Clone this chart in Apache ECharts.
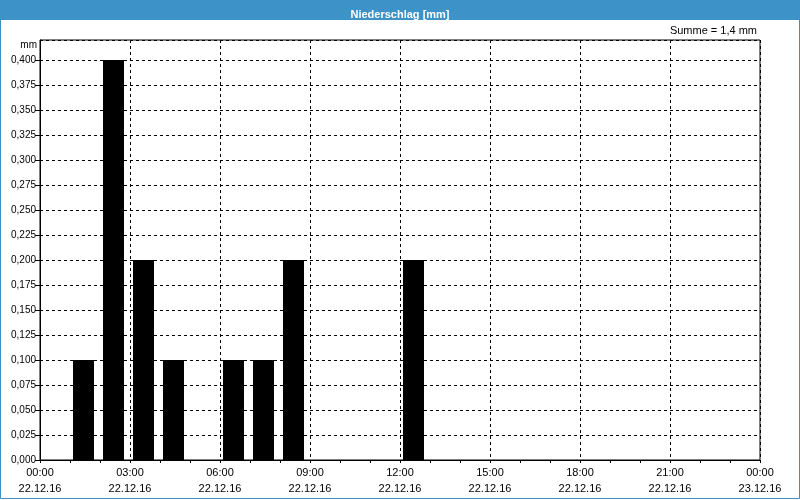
<!DOCTYPE html>
<html>
<head>
<meta charset="utf-8">
<script src="https://cdn.jsdelivr.net/npm/echarts@6/dist/echarts.min.js"></script>
<style>
html,body{margin:0;padding:0;background:#fff;}
#chart{width:800px;height:500px;}
</style>
</head>
<body>
<div id="chart"></div>
<script>
// Hourly precipitation (mm) for 22.12.16, hour slot starting at index hour
const hours = [0,1,2,3,4,5,6,7,8,9,10,11,12,13,14,15,16,17,18,19,20,21,22,23];
const precip = [0,0.1,0.4,0.2,0.1,0,0.1,0.1,0.2,0,0,0,0.2,0,0,0,0,0,0,0,0,0,0,0];
const xTimeLabels = ['00:00','03:00','06:00','09:00','12:00','15:00','18:00','21:00','00:00'];
const xDateLabels = ['22.12.16','22.12.16','22.12.16','22.12.16','22.12.16','22.12.16','22.12.16','22.12.16','23.12.16'];
const titleText = 'Niederschlag [mm]';
const unitText = 'mm';

const sum = precip.reduce((a,b)=>a+b,0);
const sumText = 'Summe = ' + (Math.round(sum*10)/10).toFixed(1).replace('.', ',') + ' mm';

const FONT = 'Liberation Sans';
const BLUE = '#3d92c8';

const chart = echarts.init(document.getElementById('chart'), null, {renderer:'canvas'});
const barData = hours.filter((h,i)=>precip[i]>0).map(h => [h + 0.45, precip[h]]);

chart.setOption({
  animation:false,
  backgroundColor:'#ffffff',
  title:{
    text:titleText, left:'center', top:4,
    textStyle:{color:'#fff', fontFamily:FONT, fontSize:11, fontWeight:'bold'}
  },
  graphic:[
    {type:'rect', z:-1, shape:{x:0,y:0,width:800,height:20}, style:{fill:BLUE}},
    {type:'rect', z:-1, shape:{x:0.5,y:0.5,width:799,height:498}, style:{fill:null, stroke:BLUE, lineWidth:1}},
    {type:'rect', z:-1, shape:{x:0,y:499,width:800,height:1}, style:{fill:'#fff'}},
    {type:'text', x:37, y:45, style:{text:unitText, align:'right', verticalAlign:'middle', fill:'#000', font:'10px "Liberation Sans"'}},
    {type:'text', x:757, y:31, style:{text:sumText, align:'right', verticalAlign:'middle', fill:'#000', font:'11px "Liberation Sans"'}}
  ],
  grid:{left:40, right:40, top:40, bottom:40, show:true, borderColor:'#000', borderWidth:1, backgroundColor:'#fff'},
  xAxis:{
    type:'value', min:0, max:24, interval:3,
    axisLine:{show:true, lineStyle:{color:'#000', width:1}},
    axisTick:{show:true, length:3, lineStyle:{color:'#000'}},
    minorTick:{show:true, splitNumber:3, length:3, lineStyle:{color:'#000'}},
    splitLine:{show:true, lineStyle:{color:'#000', type:[3,3], width:1}},
    axisLabel:{
      margin:5, fontFamily:FONT, fontSize:11, color:'#000', lineHeight:16,
      showMinLabel:true, showMaxLabel:true,
      formatter:(v)=>{const i=Math.round(v/3); return xTimeLabels[i]+'\n'+xDateLabels[i];}
    }
  },
  yAxis:{
    type:'value', min:0, max:0.42, interval:0.025,
    axisLine:{show:true, lineStyle:{color:'#000', width:1}},
    axisTick:{show:true, length:5, lineStyle:{color:'#000'}},
    splitLine:{show:true, lineStyle:{color:'#000', type:[3,3], width:1}},
    axisLabel:{
      margin:4, fontFamily:FONT, fontSize:10, color:'#000', showMaxLabel:false,
      formatter:(v)=> v>0.4001 ? '' : v.toFixed(3).replace('.', ',')
    }
  },
  series:[{
    type:'bar', data:barData, barWidth:21,
    itemStyle:{color:'#000'}
  }]
});
</script>
</body>
</html>
